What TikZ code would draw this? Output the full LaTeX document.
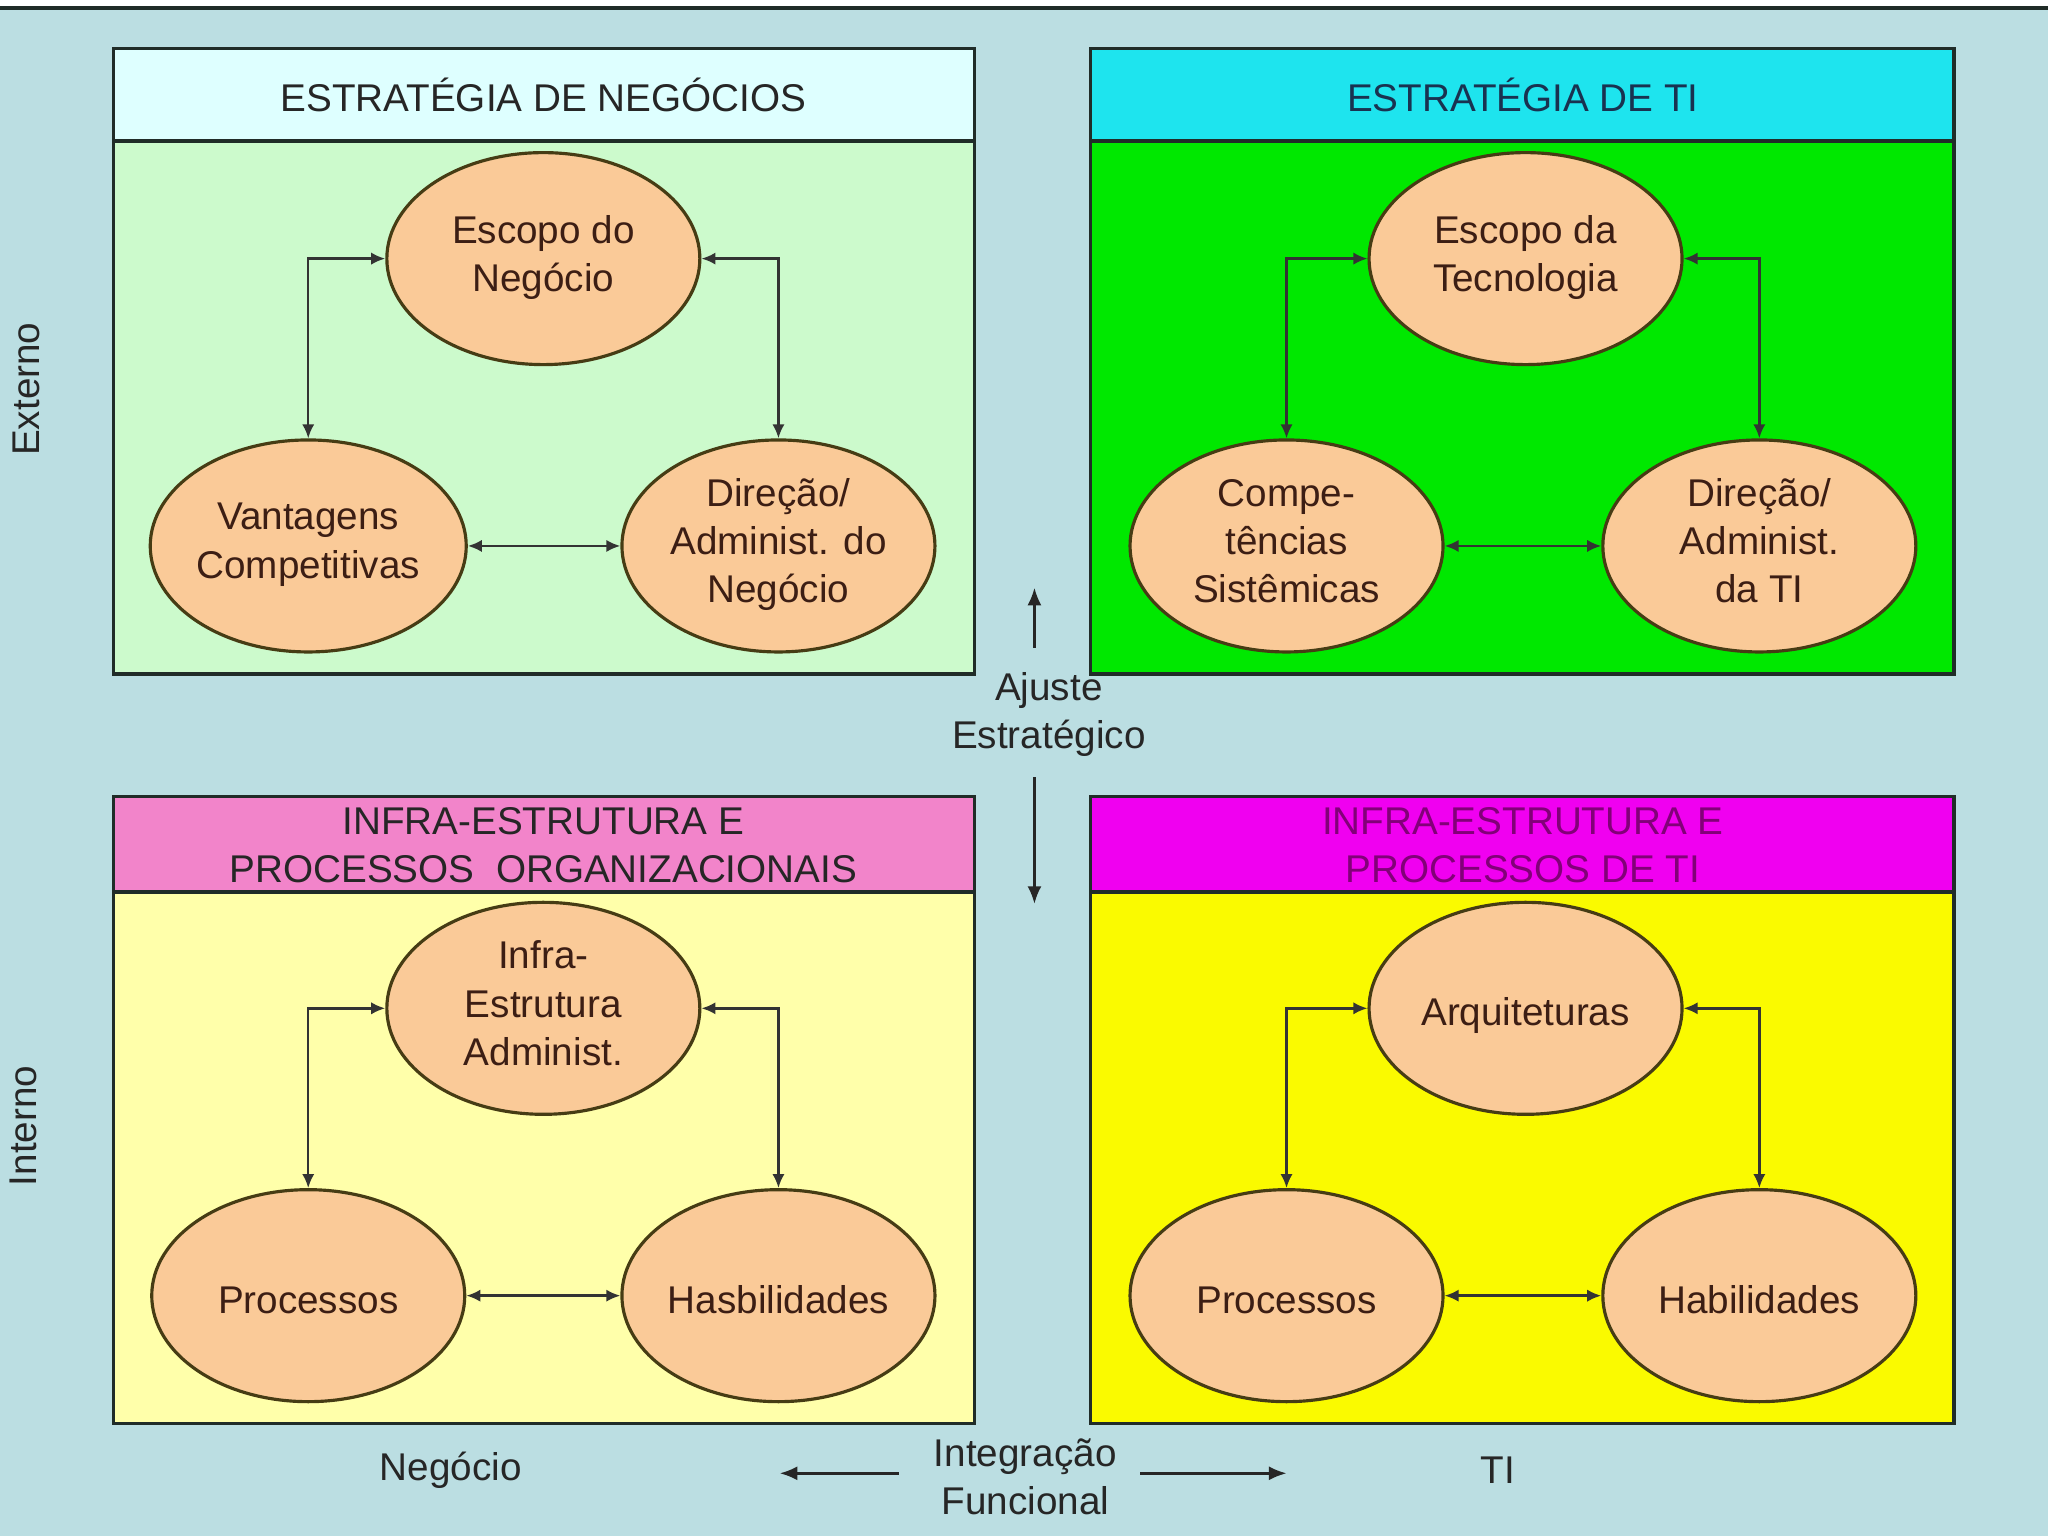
\documentclass[tikz,border=0pt]{standalone}
\usepackage{fontspec}
\setmainfont{Liberation Sans}
\usepackage{tikz}
\usetikzlibrary{shapes.geometric, arrows.meta, positioning}

\definecolor{Fundo}{RGB}{187,222,226}
\definecolor{CabNeg}{RGB}{222,255,255}
\definecolor{CorpoNeg}{RGB}{204,250,204}
\definecolor{CabTI}{RGB}{30,228,238}
\definecolor{CorpoTI}{RGB}{0,232,0}
\definecolor{CabOrg}{RGB}{242,132,202}
\definecolor{CorpoOrg}{RGB}{255,255,170}
\definecolor{CabInfra}{RGB}{240,0,240}
\definecolor{CorpoInfra}{RGB}{250,250,0}
\definecolor{Pessego}{RGB}{250,202,152}
\definecolor{Borda}{RGB}{32,44,40}
\definecolor{BordaElip}{RGB}{70,60,20}
\definecolor{TextoElip}{RGB}{60,30,20}
\definecolor{TextoAzul}{RGB}{25,50,80}
\definecolor{TextoRoxo}{RGB}{130,0,120}

\newcommand{\diagfont}{\fontsize{11}{13.7}\selectfont}

\tikzset{
  panel/.style={draw=Borda, line width=0.9pt},
  elip/.style={ellipse, draw=BordaElip, fill=Pessego, line width=0.9pt,
    minimum width=3.13cm, minimum height=2.12cm, inner sep=0pt,
    align=center, text=TextoElip, font=\diagfont,
    execute at begin node={\rule{0pt}{13pt}},
    execute at end node={\rule[-3pt]{0pt}{3pt}}},
  cab/.style={align=center, font=\diagfont, text=black!85},
  rotulo/.style={align=center, font=\diagfont, text=black!85},
  link/.style={{Latex[length=4pt,width=3.5pt]}-{Latex[length=4pt,width=3.5pt]}, line width=0.7pt, draw=black!80},
  seta/.style={-{Latex[length=5pt,width=4pt]}, line width=0.7pt, draw=black!85},
}

\begin{document}
\begin{tikzpicture}[x=0.013061cm, y=-0.013061cm]

        % Background
        \useasboundingbox (0,0) rectangle (1568,1176);
        \fill[Fundo] (0,0) rectangle (1568,1176);
        \fill[white] (0,0) rectangle (1568,5);
        \draw[Borda, line width=1pt] (0,6) -- (1568,6);

        % Panels
        \fill[CabNeg] (87,37) rectangle (746,108);
        \fill[CorpoNeg] (87,108) rectangle (746,516);
        \draw[panel] (87,37) rectangle (746,516) (87,108) -- (746,108);

        \fill[CabTI] (835,37) rectangle (1496,108);
        \fill[CorpoTI] (835,108) rectangle (1496,516);
        \draw[panel] (835,37) rectangle (1496,516) (835,108) -- (1496,108);

        \fill[CabOrg] (87,610) rectangle (746,683);
        \fill[CorpoOrg] (87,683) rectangle (746,1090);
        \draw[panel] (87,610) rectangle (746,1090) (87,683) -- (746,683);

        \fill[CabInfra] (835,610) rectangle (1496,683);
        \fill[CorpoInfra] (835,683) rectangle (1496,1090);
        \draw[panel] (835,610) rectangle (1496,1090) (835,683) -- (1496,683);

        % Headers
        \node[cab] (HN) at (416,73) {ESTRATÉGIA DE NEGÓCIOS};
        \node[cab, text=TextoAzul] (HT) at (1166,73) {ESTRATÉGIA DE TI};
        \node[cab] (HO) at (416,647) {INFRA-ESTRUTURA E\\PROCESSOS\ \ ORGANIZACIONAIS};
        \node[cab, text=TextoRoxo] (HI) at (1166,647) {INFRA-ESTRUTURA E\\PROCESSOS DE TI};

        % Estrategia de negocios
        \node[elip] (EN) at (416,198) {Escopo do\\Negócio};
        \node[elip] (VC) at (236,418) {Vantagens\\Competitivas};
        \node[elip] (DN) at (596,418) {Direção/\\Administ. do\\Negócio};

        % Estrategia de TI
        \node[elip] (ET) at (1168,198) {Escopo da\\Tecnologia};
        \node[elip] (CS) at (985,418) {Compe-\\tências\\Sistêmicas};
        \node[elip] (DT) at (1347,418) {Direção/\\Administ.\\da TI};

        % Infra-estrutura organizacional
        \node[elip] (IA) at (416,772) {Infra-\\Estrutura\\Administ.};
        \node[elip] (PO) at (236,992) {Processos};
        \node[elip] (HB) at (596,992) {Hasbilidades};

        % Infra-estrutura de TI
        \node[elip] (AQ) at (1168,772) {Arquiteturas};
        \node[elip] (PT) at (985,992) {Processos};
        \node[elip] (HT2) at (1347,992) {Habilidades};

        % Draw edges
        \draw[link] (VC.north) |- (EN.west);
        \draw[link] (DN.north) |- (EN.east);
        \draw[link] (VC.east) -- (DN.west);

        \draw[link] (CS.north) |- (ET.west);
        \draw[link] (DT.north) |- (ET.east);
        \draw[link] (CS.east) -- (DT.west);

        \draw[link] (PO.north) |- (IA.west);
        \draw[link] (HB.north) |- (IA.east);
        \draw[link] (PO.east) -- (HB.west);

        \draw[link] (PT.north) |- (AQ.west);
        \draw[link] (HT2.north) |- (AQ.east);
        \draw[link] (PT.east) -- (HT2.west);

        % Side and bottom labels
        \node[rotulo, rotate=90] (EX) at (20,298) {Externo};
        \node[rotulo, rotate=90] (IN) at (18,862) {Interno};
        \node[rotulo] (AE) at (803,547) {Ajuste\\Estratégico};
        \node[rotulo] (IF) at (785,1131) {Integração\\Funcional};
        \node[rotulo] (NG) at (345,1126) {Negócio};
        \node[rotulo] (TI) at (1147,1126) {TI};

        % Arrows
        \coordinate (aeA) at (792,496);
        \coordinate (aeB) at (792,450);
        \coordinate (aeC) at (792,595);
        \coordinate (aeD) at (792,692);
        \coordinate (ifA) at (688,1128);
        \coordinate (ifB) at (597,1128);
        \coordinate (ifC) at (873,1128);
        \coordinate (ifD) at (985,1128);
        \draw[seta] (aeA) -- (aeB);
        \draw[seta] (aeC) -- (aeD);
        \draw[seta] (ifA) -- (ifB);
        \draw[seta] (ifC) -- (ifD);

\end{tikzpicture}
\end{document}
